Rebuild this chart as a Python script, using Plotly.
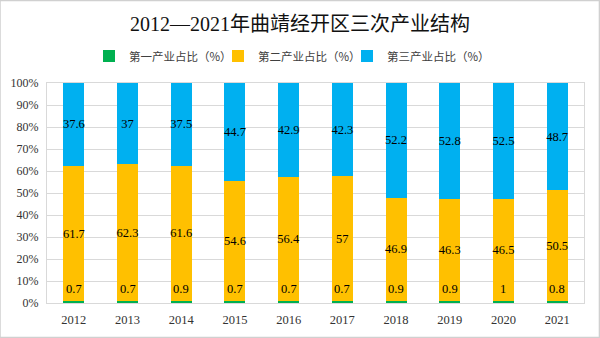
import plotly.graph_objects as go

years = ["2012", "2013", "2014", "2015", "2016", "2017", "2018", "2019", "2020", "2021"]
primary = [0.7, 0.7, 0.9, 0.7, 0.7, 0.7, 0.9, 0.9, 1, 0.8]
secondary = [61.7, 62.3, 61.6, 54.6, 56.4, 57, 46.9, 46.3, 46.5, 50.5]
tertiary = [37.6, 37, 37.5, 44.7, 42.9, 42.3, 52.2, 52.8, 52.5, 48.7]
names = ["第一产业占比（%）", "第二产业占比（%）", "第三产业占比（%）"]
colors = ["#00B050", "#FFC000", "#00B0F0"]

SERIF = "Liberation Serif, Times New Roman, Noto Sans CJK SC, serif"
TXT = dict(family=SERIF, size=12.5, color="#000000")

fig = go.Figure()
fig.add_trace(go.Bar(x=years, y=primary, name=names[0], marker=dict(color=colors[0], line=dict(width=0)),
                     hoverinfo="skip", legend="legend"))
fig.add_trace(go.Bar(x=years, y=secondary, name=names[1], marker=dict(color=colors[1], line=dict(width=0)),
                     text=[f"{v:g}" for v in secondary], textposition="inside",
                     insidetextanchor="middle", textangle=0, textfont=TXT, constraintext="none",
                     legend="legend2"))
fig.add_trace(go.Bar(x=years, y=tertiary, name=names[2], marker=dict(color=colors[2], line=dict(width=0)),
                     text=[f"{v:g}" for v in tertiary], textposition="inside",
                     insidetextanchor="middle", textangle=0, textfont=TXT, constraintext="none",
                     legend="legend3"))

anns = []
for i, (a, b, c) in enumerate(zip(primary, secondary, tertiary)):
    pct = a / (a + b + c) * 100
    anns.append(dict(x=i, y=pct, xref="x", yref="y", text=f"{a:g}", showarrow=False,
                     yanchor="middle", yshift=12, font=TXT))

PW = 537.0
PH = 220.0
def lx(px):
    return (px - 47) / PW

leg_common = dict(orientation="h", xanchor="left", y=(303 - 56) / PH, yanchor="middle",
                  font=dict(family="Noto Sans CJK SC, sans-serif", size=11.5, color="#404040"),
                  itemwidth=30, bgcolor="rgba(0,0,0,0)", borderwidth=0)

fig.update_layout(
    width=600, height=338,
    barmode="stack", barnorm="percent", bargap=0.61,
    paper_bgcolor="white", plot_bgcolor="white",
    margin=dict(l=47, r=16, t=83, b=35),
    title=dict(text="2012—2021年曲靖经开区三次产业结构", x=0.5, xanchor="center",
               y=1 - 23.5 / 338, yanchor="middle",
               font=dict(family=SERIF, size=20, color="#111111")),
    legend=dict(x=lx(89), **leg_common),
    legend2=dict(x=lx(218), **leg_common),
    legend3=dict(x=lx(347), **leg_common),
    annotations=anns,
    showlegend=True,
    shapes=[dict(type="rect", xref="paper", yref="paper", x0=-47/PW, x1=1+16/PW - 0.001,
                 y0=-35/PH + 0.002, y1=1 + 83/PH - 0.002,
                 line=dict(color="#d0d0d0", width=1.5))],
)
fig.update_yaxes(range=[0, 100], dtick=10, ticksuffix="%", showgrid=True, gridcolor="#d9d9d9",
                 gridwidth=1, showline=True, linecolor="#d9d9d9", mirror=True, zeroline=False,
                 tickfont=dict(family=SERIF, size=12, color="#333333"), ticks="",
                 ticklabelstandoff=5)
fig.update_xaxes(type="category", range=[-0.5, len(years) - 0.5], showline=True, linecolor="#d9d9d9",
                 mirror=True, showgrid=False,
                 tickfont=dict(family=SERIF, size=12.5, color="#333333"), ticks="",
                 ticklabelstandoff=5)

fig.write_html("out.html")
